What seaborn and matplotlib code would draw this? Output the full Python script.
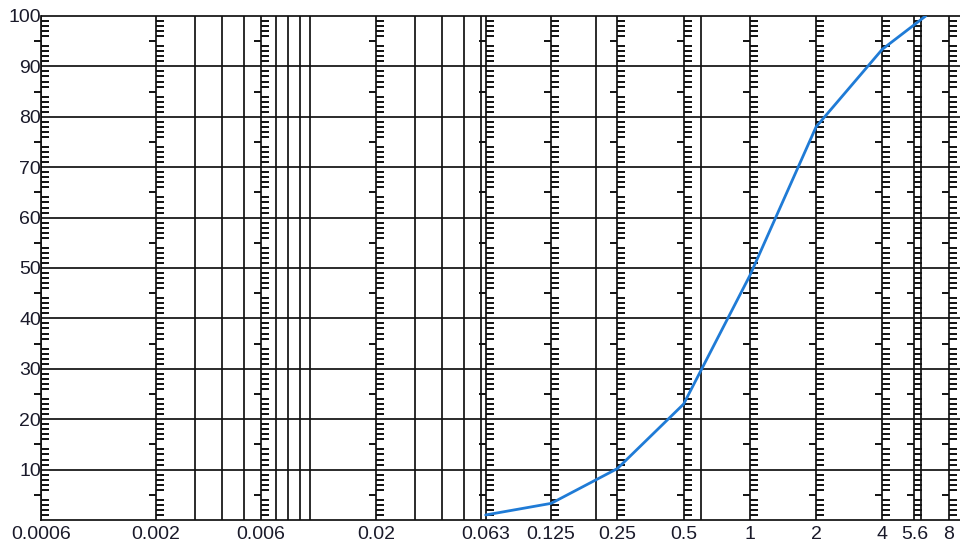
import numpy as np
import matplotlib
matplotlib.use("Agg")
import matplotlib.pyplot as plt
from matplotlib.ticker import NullLocator
import seaborn as sns

# Sieve sizes (mm) and cumulative percentage passing
sizes = [0.063, 0.125, 0.25, 0.5, 1, 2, 4, 6.3]
passing = [1.0, 3.3, 10.2, 23.0, 48.5, 78.0, 93.4, 100.0]

# Labelled grain-size scales along the x axis
scale_marks = [0.0006, 0.002, 0.006, 0.02, 0.063, 0.125, 0.25, 0.5, 1, 2, 4, 5.6, 8]
scale_labels = ["0.0006", "0.002", "0.006", "0.02", "0.063", "0.125", "0.25",
                "0.5", "1", "2", "4", "5.6", "8"]
# Additional unlabelled vertical grid lines
extra_lines = [0.003, 0.004, 0.005, 0.007, 0.008, 0.009, 0.01,
               0.03, 0.04, 0.05, 0.06, 0.2, 0.6, 6]
# Percentage grid and labels
pct_ticks = [10, 20, 30, 40, 50, 60, 70, 80, 90, 100]
pct_labels = ["10", "20", "30", "40", "50", "60", "70", "80", "90", "100"]

sns.set_style("white")
plt.rcParams["font.family"] = ["Liberation Sans", "DejaVu Sans"]

W, H = 960, 543
fig = plt.figure(figsize=(W / 100, H / 100), dpi=100)
ax = fig.add_axes([41 / W, 23 / H, 919 / W, 504 / H])
ax.set_xscale("log")
xmax = 9.02
ax.set_xlim(scale_marks[0], xmax)
ax.set_ylim(0, 100)

ink = "#111111"
lw = 1.25

# Horizontal and vertical grid
ax.hlines(pct_ticks, scale_marks[0], xmax, color=ink, lw=lw, clip_on=False, zorder=2)
ax.vlines(extra_lines + scale_marks, 0, 100, color=ink, lw=lw, zorder=2)

# Percentage rulers on each labelled scale line
minor_y = [v for v in range(1, 100) if v % 5 != 0]
half_y = [v for v in range(5, 100, 10)]
for xm in scale_marks:
    ax.plot([xm] * len(minor_y), minor_y, linestyle="none", marker=1,
            ms=5.8, mew=1.4, color=ink, clip_on=False, zorder=3)
    ax.plot([xm] * len(half_y), half_y, linestyle="none", marker=0,
            ms=5.2, mew=1.4, color=ink, clip_on=False, zorder=3)

# Grading curve
sns.lineplot(x=sizes, y=passing, ax=ax, color="#1f7bd6", lw=2.0, zorder=4)

ax.set_xticks(scale_marks)
ax.set_xticklabels(scale_labels)
ax.xaxis.set_minor_locator(NullLocator())
ax.set_yticks(pct_ticks)
ax.set_yticklabels(pct_labels)
ax.yaxis.set_minor_locator(NullLocator())
ax.tick_params(axis="x", length=0, pad=4, labelsize=14, labelcolor="#1a1a2a")
ax.tick_params(axis="y", length=0, pad=0, labelsize=14, labelcolor="#1a1a2a")
ax.grid(False)

for side in ["top", "right"]:
    ax.spines[side].set_visible(False)
for side in ["left", "bottom"]:
    ax.spines[side].set_color(ink)
    ax.spines[side].set_linewidth(lw)

fig.savefig("out.png", dpi=100, facecolor="white")
